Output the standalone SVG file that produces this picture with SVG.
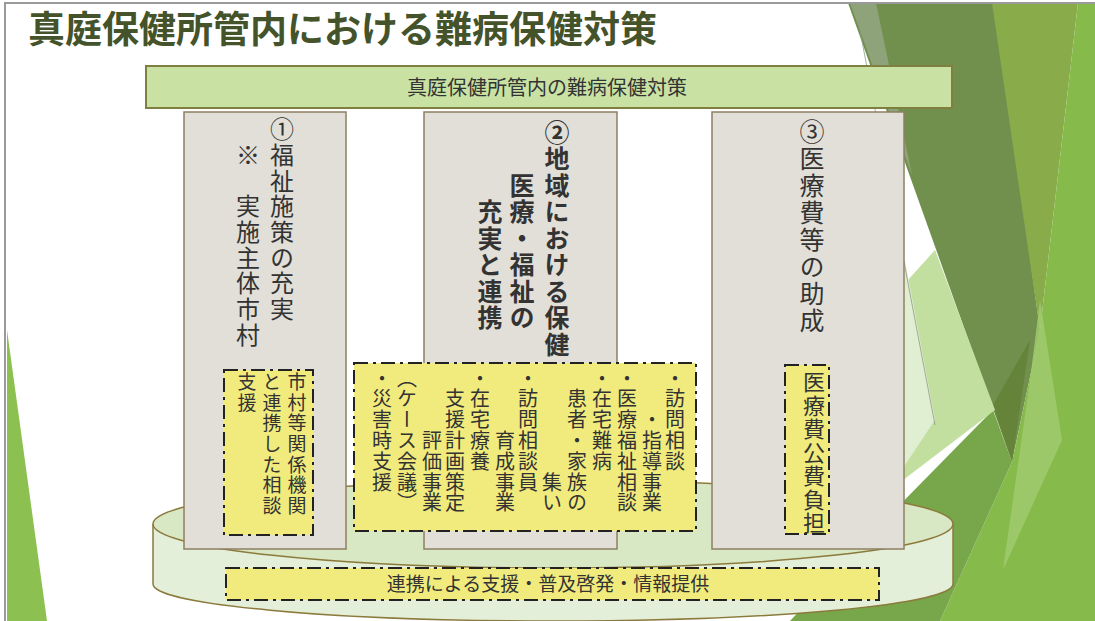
<svg xmlns="http://www.w3.org/2000/svg" width="1095" height="621" viewBox="0 0 1095 621">
  <style>
    .col { fill: #e1dfd7; stroke: #8d8062; stroke-width: 1.5; }
    .note { fill: #f1eb7d; stroke: #222; stroke-width: 2; stroke-dasharray: 14 5 3 5; }
    .vt { font-family: "Noto Sans CJK JP", "Noto Sans CJK SC", sans-serif; writing-mode: vertical-rl; fill: #333; }
    .ht { font-family: "Noto Sans CJK JP", "Noto Sans CJK SC", sans-serif; fill: #333; }
  </style>

  <!-- slide background and facet decoration -->
  <rect width="1095" height="621" fill="#ffffff"/>
  <g id="facets">
    <polygon points="848,3 995,3 1040,330 1012,462" fill="#71904d"/>
    <polygon points="850,3 876,3 912,175" fill="#8ea37a"/>
    <polygon points="992,3 1078,3 1040,330" fill="#8aab4a"/>
    <polygon points="1078,3 1095,3 1095,621 940,621 1012,462 1040,330" fill="#86bb4c"/>
    <polygon points="1040,300 1062,440 1003,570 1030,380" fill="#a2cc70" opacity="0.8"/>
    <polygon points="993,405 1030,340 1012,462" fill="#66833a"/>
    <polygon points="993,410 1012,462 940,621 790,621 880,525" fill="#77a64b"/>
    <polygon points="935,250 995,410 890,490 890,300" fill="#c3df9f"/>
    <polygon points="905,260 935,420 895,480" fill="#e0eed2"/>
    <line x1="858" y1="20" x2="935" y2="425" stroke="#8d9a85" stroke-width="0.8"/>
    <polygon points="7,330 7,621 47,621" fill="#8cc152"/>
  </g>
  <path d="M5,621 V3 H1095" fill="none" stroke="#9a9a9a" stroke-width="2"/>

  <!-- title -->
  <text x="28" y="43" font-family="'Noto Sans CJK JP', sans-serif" font-size="37" font-weight="bold" fill="#44532a">真庭保健所管内における難病保健対策</text>

  <!-- heading bar -->
  <g id="header">
    <rect x="146" y="66" width="806" height="42" fill="#c9e2a3" stroke="#7f8040" stroke-width="2"/>
    <text class="ht" x="547" y="94.5" font-size="20" text-anchor="middle">真庭保健所管内の難病保健対策</text>
  </g>

  <!-- base platform -->
  <g id="platform">
    <path d="M153,524 V584 A400,37 0 0 0 953,584 V524" fill="#e3efd8" stroke="#8c7a3c" stroke-width="1.5"/>
    <ellipse cx="553" cy="524" rx="400" ry="44" fill="#d8e8c4" stroke="#8c7a3c" stroke-width="1.5"/>
  </g>

  <!-- pillar 1: welfare -->
  <g id="pillar1">
    <rect class="col" x="184" y="112" width="162" height="437"/>
    <text class="vt" x="282" y="117" font-size="24" letter-spacing="1.7">①福祉施策の充実</text>
    <text class="vt" x="248" y="142.7" font-size="24" letter-spacing="1.7">※　実施主体市村</text>
  </g>

  <!-- pillar 2: regional health, medical and welfare -->
  <g id="pillar2">
    <rect class="col" x="424" y="112" width="193" height="437"/>
    <text class="vt" x="557" y="119.5" font-size="25" font-weight="bold" letter-spacing="1.5" fill="#1a1a1a">②地域における保健</text>
    <text class="vt" x="522" y="172.5" font-size="25" font-weight="bold" letter-spacing="1.5" fill="#1a1a1a">医療・福祉の</text>
    <text class="vt" x="490" y="199" font-size="25" font-weight="bold" letter-spacing="1.5" fill="#1a1a1a">充実と連携</text>
  </g>

  <!-- pillar 3: medical cost subsidy -->
  <g id="pillar3">
    <rect class="col" x="712" y="112" width="192" height="437"/>
    <text class="vt" x="812" y="118.5" font-size="25" letter-spacing="2">③医療費等の助成</text>
  </g>

  <!-- activity boxes -->
  <g id="box-municipal">
    <rect class="note" x="224" y="370" width="89" height="165"/>
    <text class="vt" x="297" y="372.5" font-size="19" letter-spacing="1.6">市村等関係機関</text>
    <text class="vt" x="272" y="372.5" font-size="19" letter-spacing="1.6">と連携した相談</text>
    <text class="vt" x="247" y="372.5" font-size="19" letter-spacing="1.6">支援</text>
  </g>

  <g id="box-regional">
    <rect class="note" x="354" y="363" width="342" height="168"/>
    <g font-size="20" letter-spacing="0.8">
      <text class="vt" x="675" y="368">・訪問相談</text>
      <text class="vt" x="652" y="409.6">・指導事業</text>
      <text class="vt" x="627" y="368">・医療福祉相談</text>
      <text class="vt" x="602" y="368">・在宅難病</text>
      <text class="vt" x="577" y="388.8">患者・家族の</text>
      <text class="vt" x="552" y="472">集い</text>
      <text class="vt" x="528" y="368">・訪問相談員</text>
      <text class="vt" x="505" y="430.4">育成事業</text>
      <text class="vt" x="480" y="368">・在宅療養</text>
      <text class="vt" x="455" y="388.8">支援計画策定</text>
      <text class="vt" x="432" y="430.4">評価事業</text>
      <text class="vt" x="407" y="368">（ケース会議）</text>
      <text class="vt" x="382" y="368">・災害時支援</text>
    </g>
  </g>

  <g id="box-subsidy">
    <rect class="note" x="785" y="365" width="44" height="169"/>
    <text class="vt" x="814" y="371" font-size="22" letter-spacing="1.5">医療費公費負担</text>
  </g>

  <g id="box-cooperation">
    <rect class="note" x="226" y="568" width="653" height="32"/>
    <text class="ht" x="548" y="591" font-size="19" text-anchor="middle">連携による支援・普及啓発・情報提供</text>
  </g>
</svg>
